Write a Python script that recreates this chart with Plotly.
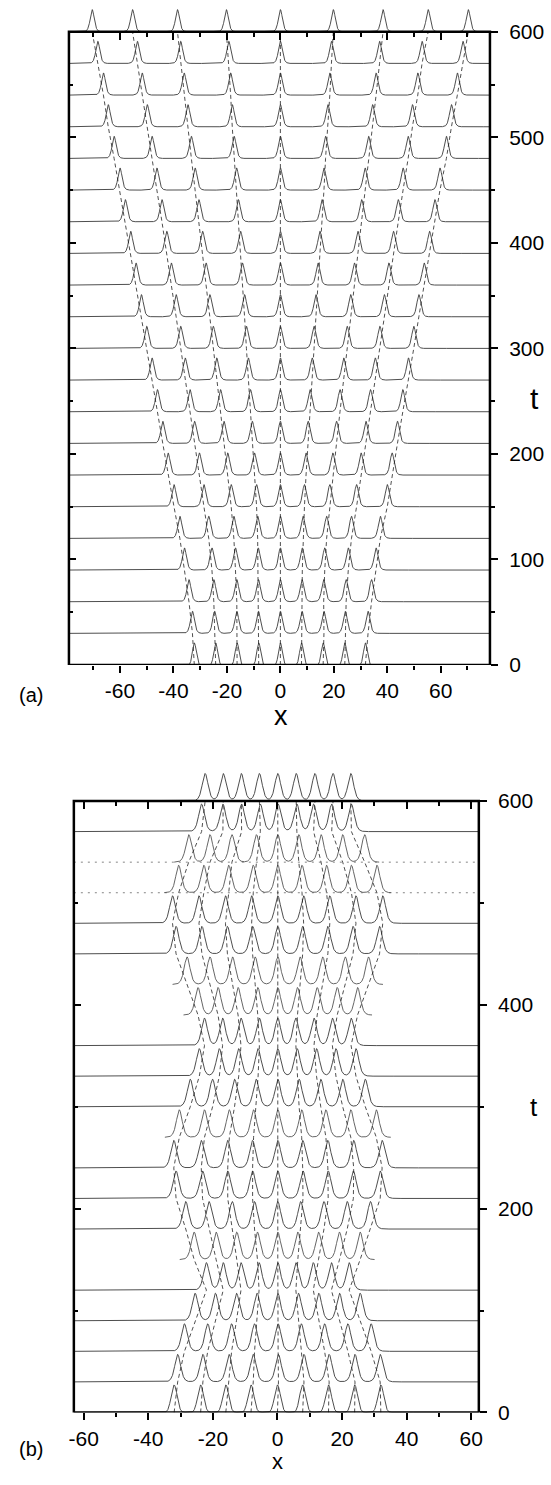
import numpy as np
import plotly.graph_objects as go

W, H = 551, 1485

# ---------------- data: panel (a) ----------------
a_times = [0, 30, 60, 90, 120, 150, 180, 210, 240, 270, 300,
           330, 360, 390, 420, 450, 480, 510, 540, 570, 600]
a_pos = [
    [-32.2, -24.2, -16.2, -8.1, 0.0, 7.9, 16.0, 24.1, 31.8],
    [-32.9, -24.6, -16.3, -8.2, 0.0, 8.1, 16.3, 24.3, 32.8],
    [-34.2, -24.9, -16.3, -8.2, 0.0, 8.1, 16.2, 24.6, 34.1],
    [-35.9, -25.6, -16.8, -8.3, 0.0, 8.2, 16.6, 25.4, 35.8],
    [-37.6, -26.8, -17.4, -8.5, 0.0, 8.5, 17.3, 26.6, 37.4],
    [-39.8, -28.6, -18.4, -8.9, 0.0, 9.0, 18.5, 28.5, 40.0],
    [-42.0, -30.3, -19.7, -9.7, 0.0, 9.6, 19.6, 30.2, 41.8],
    [-44.0, -32.1, -21.1, -10.5, 0.0, 10.4, 21.0, 32.0, 43.8],
    [-46.0, -33.8, -22.4, -11.2, 0.0, 11.1, 22.3, 33.7, 45.8],
    [-48.0, -35.6, -23.8, -12.0, 0.0, 11.9, 23.7, 35.5, 47.9],
    [-50.0, -37.3, -25.1, -12.7, 0.0, 12.6, 25.0, 37.2, 49.9],
    [-52.0, -39.0, -26.4, -13.4, 0.0, 13.3, 26.3, 38.9, 51.8],
    [-54.0, -40.8, -27.8, -14.2, 0.0, 14.1, 27.7, 40.6, 53.8],
    [-56.0, -42.5, -29.1, -14.9, 0.0, 14.8, 29.0, 42.3, 55.8],
    [-58.0, -44.3, -30.5, -15.7, 0.0, 15.6, 30.4, 44.1, 57.8],
    [-60.0, -46.2, -31.9, -16.4, 0.0, 16.3, 31.7, 45.9, 59.7],
    [-62.2, -48.0, -33.3, -17.3, 0.0, 16.9, 33.0, 47.8, 62.1],
    [-64.4, -49.8, -34.6, -18.0, 0.0, 17.8, 34.5, 49.4, 64.0],
    [-66.2, -51.7, -36.0, -18.6, 0.0, 18.5, 35.8, 51.4, 66.2],
    [-68.3, -53.5, -37.3, -19.3, 0.0, 19.1, 37.1, 53.0, 68.3],
    [-70.4, -55.3, -38.5, -20.2, 0.0, 19.8, 38.4, 55.3, 70.3],
]
a_xticks = [-60, -40, -20, 0, 20, 40, 60]
a_xticklabels = ["-60", "-40", "-20", "0", "20", "40", "60"]
a_tticks = [0, 100, 200, 300, 400, 500, 600]
a_tticklabels = ["0", "100", "200", "300", "400", "500", "600"]

# ---------------- data: panel (b) ----------------
b_times = [0, 30, 60, 90, 120, 150, 180, 210, 240, 270, 300,
           330, 360, 390, 420, 450, 480, 510, 540, 570, 600]
b_pos = [
    [-32.0, -23.8, -16.0, -8.2, 0.0, 7.8, 15.8, 23.9, 32.0],
    [-30.9, -23.1, -15.0, -7.5, 0.3, 8.2, 16.0, 24.0, 31.8],
    [-28.8, -21.6, -14.2, -7.1, 0.2, 7.4, 14.6, 21.8, 29.0],
    [-25.5, -19.2, -12.7, -6.3, 0.1, 6.5, 12.8, 19.2, 25.6],
    [-22.0, -16.8, -11.3, -5.7, 0.1, 5.7, 11.1, 16.7, 22.2],
    [-25.8, -19.0, -12.6, -6.2, 0.1, 6.3, 12.7, 19.2, 25.6],
    [-28.4, -21.2, -14.0, -7.1, 0.1, 7.2, 14.4, 21.6, 28.8],
    [-31.4, -23.2, -15.4, -7.7, 0.1, 7.9, 15.7, 23.5, 31.8],
    [-32.1, -23.6, -15.4, -7.7, 0.1, 7.8, 15.6, 23.6, 32.4],
    [-30.4, -22.6, -14.9, -7.4, 0.1, 7.5, 15.0, 22.7, 30.6],
    [-27.0, -20.1, -13.3, -6.6, 0.1, 6.7, 13.4, 20.2, 27.2],
    [-24.2, -18.0, -12.0, -6.0, 0.1, 6.1, 12.1, 18.1, 24.3],
    [-22.6, -17.0, -11.3, -5.6, 0.1, 5.7, 11.3, 17.0, 22.8],
    [-24.6, -18.4, -12.2, -6.1, 0.1, 6.2, 12.3, 18.5, 24.8],
    [-28.0, -20.9, -13.9, -6.9, 0.1, 7.0, 14.0, 21.0, 28.2],
    [-31.4, -23.4, -15.5, -7.7, 0.1, 7.8, 15.6, 23.4, 31.6],
    [-32.5, -24.3, -16.1, -8.0, 0.1, 8.1, 16.2, 24.3, 32.6],
    [-30.6, -22.8, -15.1, -7.5, 0.1, 7.6, 15.2, 22.9, 30.8],
    [-27.5, -20.9, -14.1, -6.5, 0.1, 6.6, 13.5, 20.2, 27.0],
    [-23.5, -16.9, -11.1, -5.3, 0.2, 6.0, 11.2, 16.8, 22.9],
    [-22.4, -16.8, -11.2, -5.6, 0.1, 5.8, 11.6, 17.2, 22.7],
]
# baseline drawing style of each row: solid / dotted / none
b_base = ["solid", "solid", "solid", "solid", "solid", "none", "solid",
          "solid", "solid", "none", "solid", "solid", "solid", "none",
          "none", "solid", "solid", "dotted", "dotted", "solid", "solid"]
b_xticks = [-60, -40, -20, 0, 20, 40, 60]
b_xticklabels = ["-60", "-40", "-20", "0", "20", "40", "60"]
b_tticks = [0, 200, 400, 600]
b_tticklabels = ["0", "200", "400", "600"]

# ---------------- geometry (pixels) ----------------
A_L, A_R, A_T0, A_T600 = 65, 493, 670, 32
B_L, B_R, B_T0, B_T600 = 70, 481.7, 1423, 807
A_XR = [-79.1, 78.4]
B_XR = [-63.05, 62.35]
A_YTOP = 629
B_YTOP = 640


def py(p):
    return 1 - p / H


a_pxt = (A_T0 - A_T600) / 600.0
b_pxt = (B_T0 - B_T600) / 600.0
a_dom_y = [py(A_T0), py(A_T600 - (A_YTOP - 600) * a_pxt)]
b_dom_y = [py(B_T0), py(B_T600 - (B_YTOP - 600) * b_pxt)]

FONT = "Liberation Sans, Arial, sans-serif"
LC = "#3a3a3a"

fig = go.Figure()


def sech2(u):
    return 1.0 / np.cosh(u) ** 2


def add_panel(times, pos, xr, amp, w, w0, xa, ya, styles=None):
    x = np.linspace(xr[0], xr[1], 3000)
    for k, t in enumerate(times):
        p = np.array(pos[k])
        if k == 0:
            prof = sum(np.exp(-((x - c) / w0) ** 2) for c in p)
        else:
            prof = sum(sech2((x - c) / w) for c in p)
        y = t + amp * prof
        st = styles[k] if styles else "solid"
        if st == "solid" or k == 0:
            fig.add_trace(go.Scatter(x=x, y=y, mode="lines", xaxis=xa, yaxis=ya,
                                     line=dict(color=LC, width=0.9),
                                     hoverinfo="skip", showlegend=False))
        else:
            m = (x > p.min() - 4.5) & (x < p.max() + 4.5)
            if st == "dotted":
                fig.add_trace(go.Scatter(x=[xr[0], xr[1]], y=[t, t], mode="lines",
                                         xaxis=xa, yaxis=ya,
                                         line=dict(color="#777", width=0.9, dash="2px,5px"),
                                         hoverinfo="skip", showlegend=False))
            fig.add_trace(go.Scatter(x=x[m], y=y[m], mode="lines", xaxis=xa, yaxis=ya,
                                     line=dict(color="#555", width=0.9),
                                     hoverinfo="skip", showlegend=False))
    # dashed trajectories
    P = np.array(pos)
    for j in range(P.shape[1]):
        fig.add_trace(go.Scatter(x=P[:, j], y=times, mode="lines", xaxis=xa, yaxis=ya,
                                 line=dict(color="#222", width=0.8, dash="4px,3px"),
                                 hoverinfo="skip", showlegend=False))


add_panel(a_times, a_pos, A_XR, 21, 1.0, 1.0, "x", "y")
add_panel(b_times, b_pos, B_XR, 27, 1.2, 1.3, "x2", "y2", b_base)

tickfont = dict(family=FONT, size=21, color="black")

common = dict(showgrid=False, zeroline=False, showline=False, fixedrange=True)

fig.update_layout(
    width=W, height=H,
    margin=dict(l=0, r=0, t=0, b=0),
    paper_bgcolor="white", plot_bgcolor="white",
    showlegend=False,
    # ---- panel (a)
    xaxis=dict(domain=[A_L / W, A_R / W], range=A_XR, anchor="y",
               tickvals=a_xticks, ticktext=a_xticklabels, ticks="outside",
               ticklen=7, tickwidth=2, tickcolor="black", tickfont=tickfont,
               minor=dict(tickvals=[-70, -50, -30, -10, 10, 30, 50, 70], ticks="outside",
                          ticklen=4, tickwidth=1.5, tickcolor="black"),
               **common),
    yaxis=dict(domain=a_dom_y, range=[0, A_YTOP], anchor="x", side="right",
               tickvals=a_tticks, ticktext=a_tticklabels, ticks="outside",
               ticklen=7, tickwidth=2, tickcolor="black", tickfont=tickfont,
               ticklabelstandoff=7,
               minor=dict(tickvals=[50, 150, 250, 350, 450, 550], ticks="outside",
                          ticklen=4, tickwidth=1.5, tickcolor="black"),
               **common),
    xaxis3=dict(overlaying="x", matches="x", anchor="free", position=py(A_T600), side="top",
                tickvals=a_xticks, ticks="inside", ticklen=7, tickwidth=2, tickcolor="black",
                showticklabels=False,
                minor=dict(tickvals=[-70, -50, -30, -10, 10, 30, 50, 70], ticks="inside",
                           ticklen=4, tickwidth=1.5, tickcolor="black"),
                **common),
    yaxis3=dict(overlaying="y", matches="y", anchor="x", side="left",
                tickvals=a_tticks, ticks="inside", ticklen=7, tickwidth=2, tickcolor="black",
                showticklabels=False,
                minor=dict(tickvals=[50, 150, 250, 350, 450, 550], ticks="inside",
                           ticklen=4, tickwidth=1.5, tickcolor="black"),
                **common),
    # ---- panel (b)
    xaxis2=dict(domain=[B_L / W, B_R / W], range=B_XR, anchor="y2",
                tickvals=b_xticks, ticktext=b_xticklabels, ticks="outside",
                ticklen=7, tickwidth=2, tickcolor="black", tickfont=tickfont,
                minor=dict(tickvals=[-50, -30, -10, 10, 30, 50], ticks="outside",
                           ticklen=4, tickwidth=1.5, tickcolor="black"),
                **common),
    yaxis2=dict(domain=b_dom_y, range=[0, B_YTOP], anchor="x2", side="right",
                tickvals=b_tticks, ticktext=b_tticklabels, ticks="outside",
                ticklen=7, tickwidth=2, tickcolor="black", tickfont=tickfont,
                ticklabelstandoff=7,
                minor=dict(tickvals=[100, 300, 500], ticks="outside",
                           ticklen=4, tickwidth=1.5, tickcolor="black"),
                **common),
    xaxis4=dict(overlaying="x2", matches="x2", anchor="free", position=py(B_T600), side="top",
                tickvals=b_xticks, ticks="inside", ticklen=7, tickwidth=2, tickcolor="black",
                showticklabels=False,
                minor=dict(tickvals=[-50, -30, -10, 10, 30, 50], ticks="inside",
                           ticklen=4, tickwidth=1.5, tickcolor="black"),
                **common),
    yaxis4=dict(overlaying="y2", matches="y2", anchor="x2", side="left",
                tickvals=b_tticks, ticks="inside", ticklen=7, tickwidth=2, tickcolor="black",
                showticklabels=False,
                minor=dict(tickvals=[100, 300, 500], ticks="inside",
                           ticklen=4, tickwidth=1.5, tickcolor="black"),
                **common),
)

# invisible traces so the overlay axes are drawn
fig.add_trace(go.Scatter(x=[0], y=[0], xaxis="x3", yaxis="y3", mode="markers",
                         marker=dict(opacity=0), hoverinfo="skip", showlegend=False))
fig.add_trace(go.Scatter(x=[0], y=[0], xaxis="x4", yaxis="y4", mode="markers",
                         marker=dict(opacity=0), hoverinfo="skip", showlegend=False))

# frames
fig.add_shape(type="rect", xref="x domain", yref="y", x0=0, x1=1, y0=0, y1=600,
              line=dict(color="black", width=2.5), layer="above")
fig.add_shape(type="rect", xref="x2 domain", yref="y2", x0=0, x1=1, y0=0, y1=600,
              line=dict(color="black", width=2.5), layer="above")


def ann(text, xpx, ypx, size):
    fig.add_annotation(text=text, x=xpx / W, y=py(ypx), xref="paper", yref="paper",
                       showarrow=False, xanchor="center", yanchor="middle",
                       font=dict(family=FONT, size=size, color="black"))


ann("(a)", 26, 700, 20)
ann("x", 281, 721, 27)
ann("t", 538, 401, 30)
ann("(b)", 26, 1460, 20)
ann("x", 277, 1472, 22)
ann("t", 538, 1115, 26)

fig.write_html("out.html")
